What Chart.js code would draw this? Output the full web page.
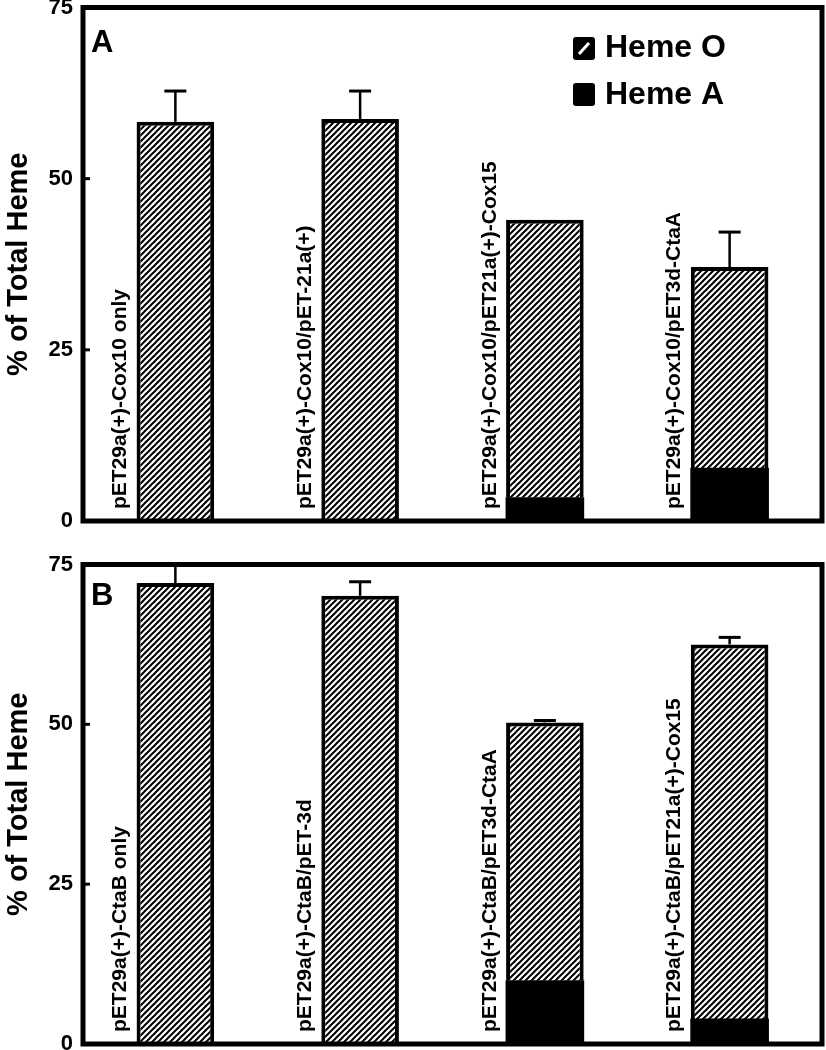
<!DOCTYPE html>
<html>
<head>
<meta charset="utf-8">
<script src="https://cdn.jsdelivr.net/npm/chart.js@4/dist/chart.umd.min.js"></script>
<style>
  body { margin: 0; background: #fff; }
  canvas { position: absolute; left: 0; }
  #chartA { top: 0; }
  #chartB { top: 540px; }
</style>
</head>
<body>
<canvas id="chartA" width="826" height="540"></canvas>
<canvas id="chartB" width="826" height="510"></canvas>
<script>
var labelsA = ['pET29a(+)-Cox10 only', 'pET29a(+)-Cox10/pET-21a(+)', 'pET29a(+)-Cox10/pET21a(+)-Cox15', 'pET29a(+)-Cox10/pET3d-CtaA'];
var hemeA_A = [0, 0, 3.4, 7.7];
var hemeO_A = [58.3, 58.7, 40.6, 29.4];
var errA = [4.5, 4.1, 0, 5.1];

var labelsB = ['pET29a(+)-CtaB only', 'pET29a(+)-CtaB/pET-3d', 'pET29a(+)-CtaB/pET3d-CtaA', 'pET29a(+)-CtaB/pET21a(+)-Cox15'];
var hemeA_B = [0, 0, 9.9, 3.9];
var hemeO_B = [72.1, 70.1, 40.4, 58.6];
var errB = [3.5, 2.2, 0.3, 1.1];

var yTicks = [0, 25, 50, 75];
var seriesNames = ['Heme A', 'Heme O'];

var FONT = "'Liberation Sans', Arial, sans-serif";

function makeHatch() {
  var c = document.createElement('canvas');
  c.width = 6; c.height = 6;
  var g = c.getContext('2d');
  g.fillStyle = '#fff';
  g.fillRect(0, 0, 6, 6);
  g.strokeStyle = '#000';
  g.lineWidth = 2;
  g.beginPath();
  g.moveTo(-1, 7); g.lineTo(7, -1);
  g.moveTo(-1, 1); g.lineTo(1, -1);
  g.moveTo(5, 7); g.lineTo(7, 5);
  g.stroke();
  return g.createPattern(c, 'repeat');
}
var hatch = makeHatch();

// frame, error bars, rotated category labels, panel letter, legend
var decor = {
  id: 'decor',
  afterDatasetsDraw: function(chart, args, o) {
    var ctx = chart.ctx;
    var a = chart.chartArea;
    var xs = chart.scales.x, ys = chart.scales.y;
    var base = chart.data.datasets;
    ctx.save();

    // error bars (upper only)
    ctx.strokeStyle = '#000';
    var topMeta = chart.getDatasetMeta(1);
    for (var i = 0; i < o.err.length; i++) {
      if (!o.err[i]) continue;
      var total = base[0].data[i] + base[1].data[i];
      var x = xs.getPixelForValue(i);
      var yTop = Math.max(ys.getPixelForValue(total + o.err[i]), a.top);
      var yBar = topMeta.data[i].y;
      ctx.lineWidth = 2.5;
      ctx.beginPath();
      ctx.moveTo(x, yBar);
      ctx.lineTo(x, yTop);
      ctx.stroke();
      ctx.lineWidth = 3;
      ctx.beginPath();
      ctx.moveTo(x - 11, yTop);
      ctx.lineTo(x + 11, yTop);
      ctx.stroke();
    }

    // category labels written up the left side of each bar
    ctx.fillStyle = '#000';
    ctx.font = 'bold 21px ' + FONT;
    ctx.textAlign = 'left';
    ctx.textBaseline = 'middle';
    chart.data.labels.forEach(function(lab, i) {
      ctx.save();
      ctx.translate(xs.getPixelForValue(i) - 55, ys.getPixelForValue(0) - 12);
      ctx.rotate(-Math.PI / 2);
      ctx.fillText(lab, 0, 0);
      ctx.restore();
    });

    // panel letter
    ctx.font = 'bold 31px ' + FONT;
    ctx.textBaseline = 'alphabetic';
    ctx.fillText(o.letter, a.left + 8, a.top + o.letterDy);

    // legend
    if (o.legend) {
      ctx.fillStyle = '#000';
      ctx.beginPath();
      ctx.roundRect(573, 37, 22, 23, 3);
      ctx.fill();
      ctx.strokeStyle = '#fff';
      ctx.lineWidth = 3;
      ctx.beginPath();
      ctx.moveTo(579, 54);
      ctx.lineTo(589, 43);
      ctx.stroke();
      ctx.beginPath();
      ctx.roundRect(573, 83, 22, 23, 3);
      ctx.fill();
      ctx.font = 'bold 32px ' + FONT;
      ctx.textBaseline = 'middle';
      ctx.fillText(seriesNames[1], 605, 48);
      ctx.fillText(seriesNames[0], 605, 95);
    }

    // inner tick marks + box frame
    ctx.strokeStyle = '#000';
    ctx.lineWidth = 3;
    yTicks.forEach(function(v) {
      if (v === 0 || v === 75) return;
      var y = ys.getPixelForValue(v);
      ctx.beginPath();
      ctx.moveTo(a.left, y);
      ctx.lineTo(a.left + 7, y);
      ctx.stroke();
    });
    ctx.lineWidth = 5;
    ctx.strokeRect(a.left, a.top, a.right - a.left, a.bottom - a.top);
    ctx.restore();
  }
};

function makeChart(id, cats, hemeA, hemeO, err, letter, letterDy, legend, padTop, padBottom) {
  return new Chart(document.getElementById(id), {
    type: 'bar',
    data: {
      labels: cats,
      datasets: [
        {
          label: seriesNames[0],
          data: hemeA,
          backgroundColor: '#000',
          borderWidth: 0,
          inflateAmount: 0.5,
          barPercentage: 0.42,
          categoryPercentage: 1
        },
        {
          label: seriesNames[1],
          data: hemeO,
          backgroundColor: hatch,
          borderColor: '#000',
          borderWidth: 4,
          borderSkipped: 'start',
          inflateAmount: 0,
          barPercentage: 0.42,
          categoryPercentage: 1
        }
      ]
    },
    options: {
      responsive: false,
      animation: false,
      layout: { padding: { top: padTop, bottom: padBottom, left: 0, right: 4 } },
      plugins: {
        legend: { display: false },
        tooltip: { enabled: false },
        decor: { err: err, letter: letter, letterDy: letterDy, legend: legend }
      },
      scales: {
        x: { stacked: true, display: false },
        y: {
          stacked: true,
          min: 0,
          max: 75,
          afterBuildTicks: function(s) {
            s.ticks = yTicks.map(function(v) { return { value: v }; });
          },
          afterFit: function(s) {
            s.width = 83;
            s.paddingTop = 0;
            s.paddingBottom = 0;
          },
          grid: { display: false, drawTicks: false },
          border: { display: false },
          ticks: { padding: 10, color: '#000', font: { family: FONT, size: 22, weight: 'bold' } },
          title: {
            display: true,
            text: '% of Total Heme',
            color: '#000',
            padding: { top: 2, bottom: 0 },
            font: { family: FONT, size: 29, weight: 'bold' }
          }
        }
      }
    },
    plugins: [decor]
  });
}

makeChart('chartA', labelsA, hemeA_A, hemeO_A, errA, 'A', 44, true, 7.5, 19);
makeChart('chartB', labelsB, hemeA_B, hemeO_B, errB, 'B', 40, false, 24.5, 6);
</script>
</body>
</html>
